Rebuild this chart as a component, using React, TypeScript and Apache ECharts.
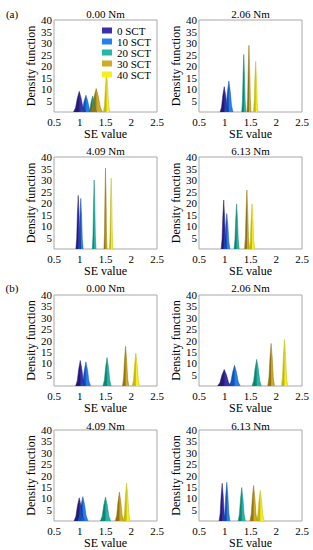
import React, { useEffect, useRef } from 'react';
import * as echarts from 'echarts';

// ---------- data ----------
const SCT_LABELS = ['0 SCT', '10 SCT', '20 SCT', '30 SCT', '40 SCT'];
const TORQUES = ['0.00 Nm', '2.06 Nm', '4.09 Nm', '6.13 Nm'];
const GROUP_LABELS = ['(a)', '(b)'];
const X_TICKS = [0.5, 1, 1.5, 2, 2.5];
const Y_TICKS = [0, 5, 10, 15, 20, 25, 30, 35, 40];

// one row per panel: (a) 0.00, 2.06, 4.09, 6.13 Nm, then (b) 0.00, 2.06, 4.09, 6.13 Nm
// columns: 0, 10, 20, 30, 40 SCT
const PEAK_CENTERS = [
  [0.99, 1.12, 1.25, 1.32, 1.52],
  [0.99, 1.08, 1.37, 1.47, 1.6],
  [0.97, 1.02, 1.28, 1.5, 1.61],
  [0.98, 1.04, 1.23, 1.43, 1.53],
  [1.01, 1.12, 1.53, 1.89, 2.09],
  [0.99, 1.19, 1.62, 1.9, 2.16],
  [0.99, 1.06, 1.5, 1.77, 1.91],
  [0.95, 1.04, 1.33, 1.56, 1.69],
];
const PEAK_HEIGHTS = [
  [9.0, 7.3, 7.0, 10.2, 17.0],
  [11.0, 13.5, 25.0, 29.0, 22.0],
  [23.3, 22.0, 30.0, 35.2, 30.8],
  [21.3, 15.4, 19.6, 25.6, 19.6],
  [11.2, 10.6, 12.5, 17.5, 14.4],
  [7.3, 9.1, 11.7, 18.7, 20.4],
  [10.2, 10.7, 10.5, 12.7, 16.6],
  [16.6, 17.0, 14.7, 15.6, 13.4],
];
const PEAK_HALF_WIDTHS = [
  [0.11, 0.1, 0.08, 0.12, 0.06],
  [0.08, 0.08, 0.04, 0.04, 0.045],
  [0.045, 0.045, 0.035, 0.03, 0.035],
  [0.05, 0.06, 0.05, 0.045, 0.05],
  [0.09, 0.09, 0.08, 0.06, 0.07],
  [0.13, 0.11, 0.09, 0.065, 0.06],
  [0.1, 0.1, 0.1, 0.08, 0.065],
  [0.06, 0.06, 0.07, 0.07, 0.075],
];
// outline of one peak, in units of (half width, height)
const PEAK_SHAPE = [
  [-1, 0],
  [-0.65, 0.2],
  [-0.35, 0.65],
  [0, 1],
  [0.35, 0.65],
  [0.65, 0.2],
  [1, 0],
];

// ---------- style ----------
const MAIN = ['#3d2eaa', '#2480f0', '#24b6a5', '#d0ac24', '#f6ef1e'];
const DARK = ['#251a72', '#1352b8', '#128474', '#937510', '#c2b90e'];
const FONT = 'Liberation Serif, Times New Roman, DejaVu Serif, serif';
const COL_LEFT = [54, 199];
const PLOT_W = 103;
const ROW_TOP = [20, 157, 295, 430];
const ROW_H = [92, 92, 91, 91];
const TITLE_Y = [13.5, 150.5, 287.5, 425.5];
const GROUP_LABEL_Y = [14, 288];

export default function App() {
  const ref = useRef<HTMLDivElement>(null);

  useEffect(() => {
    document.body.style.margin = '0';
    const chart = echarts.init(ref.current!, undefined, { renderer: 'svg' });

    const grids: any[] = [];
    const xAxes: any[] = [];
    const yAxes: any[] = [];
    const series: any[] = [];
    const graphics: any[] = [];

    for (let p = 0; p < PEAK_CENTERS.length; p++) {
      const g = Math.floor(p / 4);
      const k = p % 4;
      const row = g * 2 + Math.floor(k / 2);
      const col = k % 2;
      grids.push({
        left: COL_LEFT[col],
        top: ROW_TOP[row],
        width: PLOT_W,
        height: ROW_H[row],
        show: true,
        borderColor: '#a8a8a8',
        borderWidth: 1,
        backgroundColor: '#ffffff',
      });
      xAxes.push({
        gridIndex: p,
        type: 'value',
        min: X_TICKS[0],
        max: X_TICKS[X_TICKS.length - 1],
        interval: X_TICKS[1] - X_TICKS[0],
        axisLine: { show: false },
        axisTick: { show: false },
        splitLine: { show: false },
        axisLabel: {
          color: '#000',
          fontFamily: FONT,
          fontSize: 11,
          margin: 4,
          showMinLabel: true,
          showMaxLabel: true,
        },
        name: 'SE value',
        nameLocation: 'middle',
        nameGap: 13,
        nameTextStyle: { color: '#000', fontFamily: FONT, fontSize: 12 },
      });
      yAxes.push({
        gridIndex: p,
        type: 'value',
        min: Y_TICKS[0],
        max: Y_TICKS[Y_TICKS.length - 1],
        interval: Y_TICKS[1] - Y_TICKS[0],
        axisLine: { show: false },
        axisTick: { show: false },
        splitLine: { show: false },
        axisLabel: {
          color: '#000',
          fontFamily: FONT,
          fontSize: 11,
          margin: 2,
          formatter: (v: number) => (v === 0 ? '' : String(v)),
        },
        name: 'Density function',
        nameLocation: 'middle',
        nameGap: 15,
        nameRotate: 90,
        nameTextStyle: { color: '#000', fontFamily: FONT, fontSize: 12 },
      });
      graphics.push({
        type: 'text',
        x: COL_LEFT[col] + PLOT_W / 2,
        y: TITLE_Y[row],
        style: {
          text: TORQUES[k],
          align: 'center',
          verticalAlign: 'middle',
          fontFamily: FONT,
          fontSize: 11,
          fill: '#000',
        },
      });
      for (let s = 0; s < SCT_LABELS.length; s++) {
        const c = PEAK_CENTERS[p][s];
        const h = PEAK_HEIGHTS[p][s];
        const w = PEAK_HALF_WIDTHS[p][s];
        const pts = PEAK_SHAPE.map(([dx, dy]) => [c + dx * w, dy * h]);
        series.push({
          type: 'line',
          name: SCT_LABELS[s],
          xAxisIndex: p,
          yAxisIndex: p,
          data: pts,
          symbol: 'none',
          showSymbol: false,
          silent: true,
          itemStyle: { color: MAIN[s] },
          lineStyle: { width: 0.5, color: DARK[s] },
          areaStyle: {
            opacity: 1,
            color: new echarts.graphic.LinearGradient(0, 0, 1, 0, [
              { offset: 0, color: DARK[s] },
              { offset: 0.42, color: DARK[s] },
              { offset: 0.58, color: MAIN[s] },
              { offset: 1, color: MAIN[s] },
            ]),
          },
        });
      }
    }

    GROUP_LABELS.forEach((t, i) => {
      graphics.push({
        type: 'text',
        x: 12,
        y: GROUP_LABEL_Y[i],
        style: {
          text: t,
          align: 'center',
          verticalAlign: 'middle',
          fontFamily: FONT,
          fontSize: 11,
          fill: '#000',
        },
      });
    });

    chart.setOption({
      animation: false,
      backgroundColor: '#ffffff',
      grid: grids,
      xAxis: xAxes,
      yAxis: yAxes,
      legend: {
        data: SCT_LABELS,
        orient: 'vertical',
        left: 102,
        top: 25,
        icon: 'rect',
        itemWidth: 10,
        itemHeight: 6,
        itemGap: 0,
        padding: 0,
        selectedMode: false,
        itemStyle: { borderWidth: 0 },
        textStyle: {
          color: '#000',
          fontFamily: FONT,
          fontSize: 11,
          lineHeight: 10,
        },
      },
      graphic: graphics,
      series,
    });

    return () => chart.dispose();
  }, []);

  return <div ref={ref} style={{ width: 313, height: 550 }} />;
}
